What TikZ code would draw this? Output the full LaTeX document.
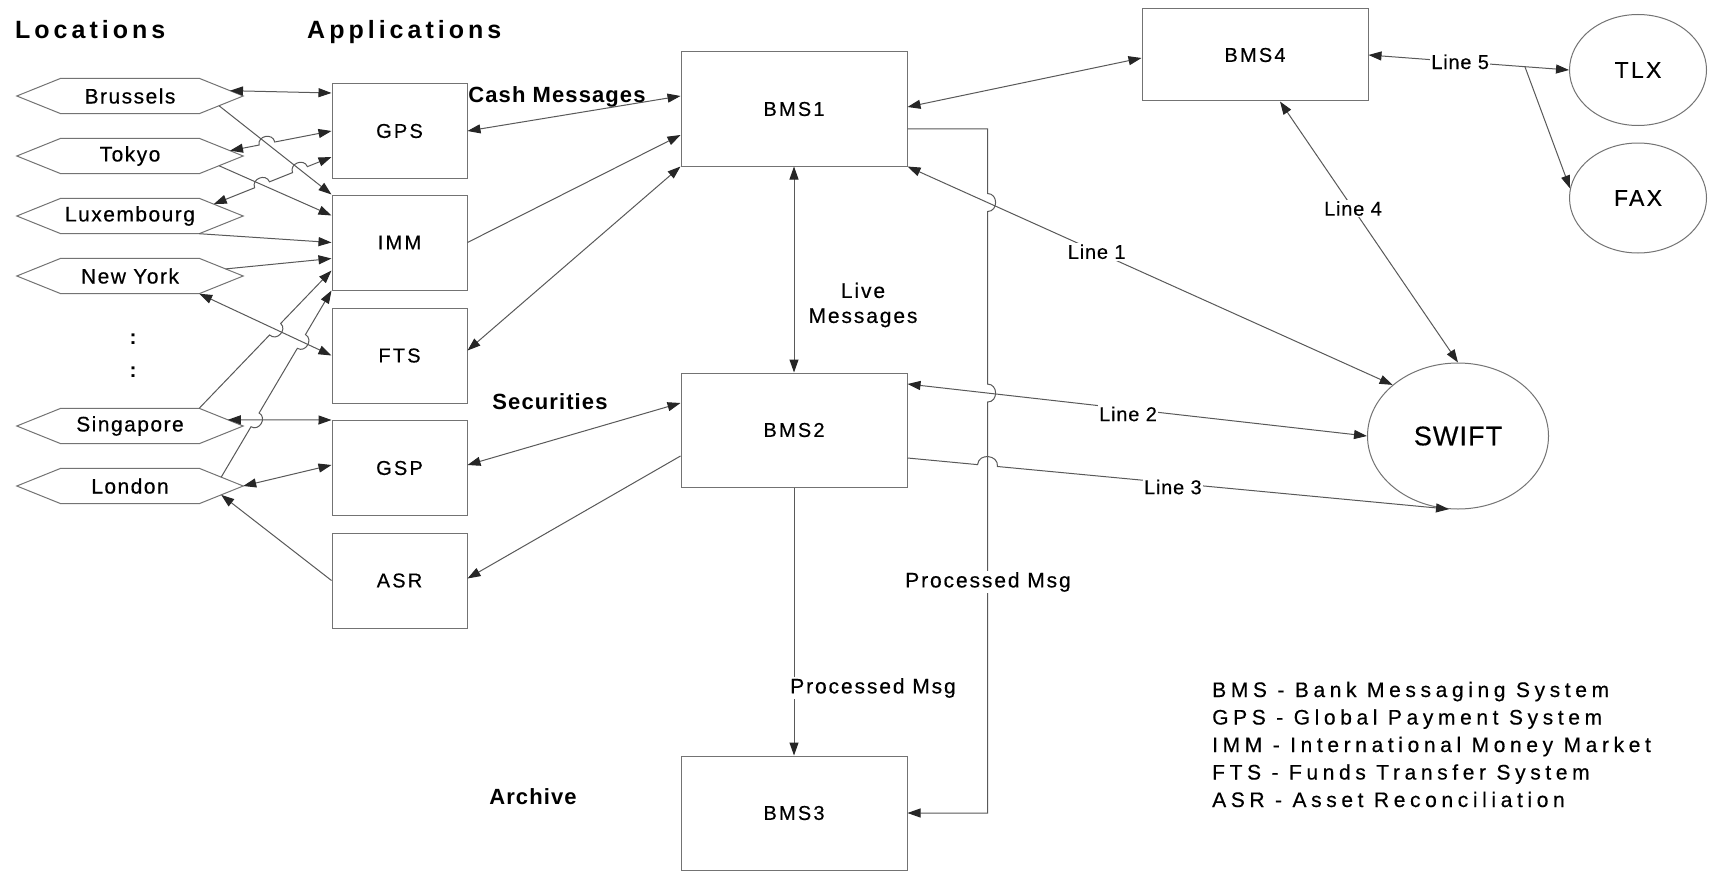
\documentclass[tikz,border=0pt]{standalone}
\usepackage{fontspec}
\setmainfont{Liberation Sans}
\newfontfamily\fLoc{Liberation Sans}[LetterSpace=7,FakeBold=0.4]
\newfontfamily\fBox{Liberation Sans}[LetterSpace=11,FakeBold=0.4]
\newfontfamily\fHead{Liberation Sans}[LetterSpace=16]
\newfontfamily\fLbl{Liberation Sans}[LetterSpace=5]
\newfontfamily\fMsg{Liberation Sans}[LetterSpace=9,FakeBold=0.4]
\newfontfamily\fLine{Liberation Sans}[LetterSpace=4,FakeBold=0.3]
\newfontfamily\fSw{Liberation Sans}[LetterSpace=4,FakeBold=0.4]
\newfontfamily\fTf{Liberation Sans}[LetterSpace=10,FakeBold=0.4]
\newfontfamily\fLeg{Liberation Sans}[LetterSpace=22,FakeBold=0.4]
\usetikzlibrary{arrows.meta,calc,shapes.geometric,intersections}
\newcommand\mkjump[7]{%
  \coordinate (#1a) at ($(#4)!#5!(#2)$);
  \coordinate (#1b) at ($(#4)!#5!(#3)$);
  \coordinate (#1p) at ($(#1a)!0.6!#6:(#1b)$);
  \coordinate (#1q) at ($(#1b)!0.6!#7:(#1a)$);
}
\begin{document}
\begin{tikzpicture}[x=1pt,y=-1pt,
  ln/.style={draw=black!65, line width=1pt},
  arr/.style={ln, -{Triangle[length=13pt,width=9pt,color=black!85]}},
  darr/.style={ln, {Triangle[length=13pt,width=9pt,color=black!85]}-{Triangle[length=13pt,width=9pt,color=black!85]}},
  appbox/.style={draw=black!55, line width=1pt, minimum width=135pt, minimum height=95pt, inner sep=0pt, font={\fBox\fontsize{20}{24}\selectfont}},
  bmsbox/.style={appbox, minimum width=226pt, minimum height=114pt},
  hexn/.style={minimum width=138pt, minimum height=35pt, inner sep=0pt, font={\fLoc\fontsize{21}{25}\selectfont}},
  hexline/.style={draw=black!55, line width=1pt},
  oval/.style={ellipse, draw=black!55, line width=1pt, inner sep=0pt},
  lblline/.style={fill=white, inner sep=1.5pt, font={\fLine\fontsize{20}{24}\selectfont}},
  msg/.style={inner sep=1pt, font={\fMsg\fontsize{21}{25}\selectfont}},
  head/.style={anchor=base west, inner sep=0pt, font={\fHead\bfseries\fontsize{25}{30}\selectfont}},
  boldlbl/.style={inner sep=0pt, font={\fLbl\bfseries\fontsize{22}{26}\selectfont}},
  leg/.style={anchor=base west, inner sep=0pt, font={\fLeg\fontsize{21}{25}\selectfont}}
]
\useasboundingbox[fill=white] (0,0) rectangle (1712,872);

% headers
\node[head] (hloc) at (15,39) {Locations};
\node[head] (happ) at (307,39) {Applications};

% locations
\node[hexn] (bru) at (130,96) {Brussels};
\node[hexn] (tok) at (130,156) {Tokyo};
\node[hexn] (lux) at (130,216) {Luxembourg};
\node[hexn] (ny) at (130,276) {New York};
\node[hexn] (sin) at (130,426) {Singapore};
\node[hexn] (lon) at (130,486) {London};
\foreach \n in {bru,tok,lux,ny,sin,lon}{
  \coordinate (\n-r) at ($(\n.east)+(44,0)$);
  \coordinate (\n-l) at ($(\n.west)+(-44,0)$);
  \draw[hexline] (\n.north west) -- (\n.north east) -- (\n-r) -- (\n.south east) -- (\n.south west) -- (\n-l) -- cycle;
}
\node[inner sep=0pt, font={\bfseries\fontsize{21}{25}\selectfont}] (dots1) at (133,339) {:};
\node[inner sep=0pt, font={\bfseries\fontsize{21}{25}\selectfont}] (dots2) at (133,372) {:};

% applications
\node[appbox] (gps) at (399.5,131) {GPS};
\node[appbox] (imm) at (399.5,242.5) {IMM};
\node[appbox] (fts) at (399.5,355.5) {FTS};
\node[appbox] (gsp) at (399.5,468) {GSP};
\node[appbox] (asr) at (399.5,580.5) {ASR};

% BMS
\node[bmsbox] (bms1) at (794,109) {BMS1};
\node[bmsbox] (bms2) at (794,430) {BMS2};
\node[bmsbox] (bms3) at (794,813) {BMS3};
\node[bmsbox, minimum height=92pt] (bms4) at (1255,55) {BMS4};

% ovals
\node[oval, minimum width=137pt, minimum height=111pt, font={\fTf\fontsize{23}{27}\selectfont}] (tlx) at (1638,70) {TLX};
\node[oval, minimum width=137pt, minimum height=110pt, font={\fTf\fontsize{23}{27}\selectfont}] (fax) at (1638,198) {FAX};
\node[oval, minimum width=181pt, minimum height=146pt, font={\fSw\fontsize{27}{32}\selectfont}] (swift) at (1458,436) {SWIFT};

% ---- left connectors
\coordinate (bruA1) at ($(bru.north east)!0.7!(bru-r)$);
\coordinate (gpsB1) at ($(gps.west)+(0,-38)$);
\coordinate (tokA1) at ($(tok.north east)!0.7!(tok-r)$);
\coordinate (gpsB2) at (gps.west);
\coordinate (luxA1) at ($(lux.north east)!0.33!(lux-r)$);
\coordinate (gpsB3) at ($(gps.west)+(0,26)$);
\coordinate (bruA2) at ($(bru.south east)!0.45!(bru-r)$);
\coordinate (immB1) at (imm.north west);
\coordinate (tokA2) at ($(tok.south east)!0.45!(tok-r)$);
\coordinate (immB2) at ($(imm.west)+(0,-27)$);
\coordinate (luxA2) at (lux.south east);
\coordinate (immB3) at (imm.west);
\coordinate (nyA1) at ($(ny.north east)!0.6!(ny-r)$);
\coordinate (immB4) at ($(imm.west)+(0,16)$);
\coordinate (sinA1) at (sin.north east);
\coordinate (immB5) at ($(imm.west)+(0,28)$);
\coordinate (lonA1) at ($(lon.north east)!0.5!(lon-r)$);
\coordinate (immB6) at (imm.south west);
\coordinate (nyA2) at (ny.south east);
\coordinate (ftsB1) at (fts.west);
\coordinate (sinA2) at ($(sin.north east)!0.65!(sin-r)$);
\coordinate (gspB1) at (gsp.north west);
\coordinate (lonA2) at (lon-r);
\coordinate (gspB2) at ($(gsp.west)+(0,-3)$);
\coordinate (asrB1) at (asr.west);
\coordinate (lonA3) at ($(lon.south east)!0.5!(lon-r)$);

\path[name path=tg] (tokA1) -- (gpsB2);
\path[name path=bi] (bruA2) -- (immB1);
\path[name path=lg] (luxA1) -- (gpsB3);
\path[name path=ti] (tokA2) -- (immB2);
\path[name path=si] (sinA1) -- (immB5);
\path[name path=nf] (nyA2) -- (ftsB1);
\path[name path=li] (lonA1) -- (immB6);
\path[name path=sg] (sinA2) -- (gspB1);
\path[name intersections={of=tg and bi, by=X1}];
\path[name intersections={of=lg and ti, by=X2}];
\path[name intersections={of=lg and bi, by=X3}];
\path[name intersections={of=si and nf, by=X4}];
\path[name intersections={of=li and sg, by=X5}];
\path[name intersections={of=li and nf, by=X6}];
\mkjump{J1}{tokA1}{gpsB2}{X1}{8pt}{90}{-90}
\mkjump{J2}{luxA1}{gpsB3}{X2}{8pt}{90}{-90}
\mkjump{J3}{luxA1}{gpsB3}{X3}{8pt}{90}{-90}
\mkjump{J4}{sinA1}{immB5}{X4}{8pt}{-90}{90}
\mkjump{J5}{lonA1}{immB6}{X5}{8pt}{-90}{90}
\mkjump{J6}{lonA1}{immB6}{X6}{8pt}{-90}{90}

\draw[darr] (bruA1) -- (gpsB1);
\draw[darr] (tokA1) -- (J1a) .. controls (J1p) and (J1q) .. (J1b) -- (gpsB2);
\draw[darr] (luxA1) -- (J2a) .. controls (J2p) and (J2q) .. (J2b) -- (J3a) .. controls (J3p) and (J3q) .. (J3b) -- (gpsB3);
\draw[arr] (bruA2) -- (immB1);
\draw[arr] (tokA2) -- (immB2);
\draw[arr] (luxA2) -- (immB3);
\draw[arr] (nyA1) -- (immB4);
\draw[arr] (sinA1) -- (J4a) .. controls (J4p) and (J4q) .. (J4b) -- (immB5);
\draw[arr] (lonA1) -- (J5a) .. controls (J5p) and (J5q) .. (J5b) -- (J6a) .. controls (J6p) and (J6q) .. (J6b) -- (immB6);
\draw[darr] (nyA2) -- (ftsB1);
\draw[darr] (sinA2) -- (gspB1);
\draw[darr] (lonA2) -- (gspB2);
\draw[arr] (asrB1) -- (lonA3);

% ---- middle connectors
\draw[darr] (gps.east) -- ($(bms1.west)+(0,-13)$);
\draw[arr] (imm.east) -- ($(bms1.west)+(0,26)$);
\draw[darr] ($(fts.east)+(0,-5)$) -- (bms1.south west);
\draw[darr] ($(gsp.east)+(0,-3)$) -- ($(bms2.west)+(0,-27)$);
\draw[arr] ($(bms2.west)+(0,26)$) -- ($(asr.east)+(0,-2)$);
\draw[darr] (bms1.south) -- (bms2.north);
\draw[arr] (bms2.south) -- (bms3.north);
\draw[darr] ($(bms1.east)+(0,-2)$) -- ($(bms4.west)+(0,3)$);

% ---- right connectors
\coordinate (l1a) at (bms1.south east);
\coordinate (l1b) at (swift.142);
\coordinate (l2a) at ($(bms2.east)+(0,-46)$);
\coordinate (l2b) at (swift.west);
\coordinate (l3a) at ($(bms2.east)+(0,28)$);
\coordinate (l3b) at (swift.263);
\coordinate (l4a) at ($(bms4.south)+(25,0)$);
\coordinate (l4b) at (swift.north);
\coordinate (l5a) at (bms4.east);
\coordinate (l5b) at (tlx.west);
\coordinate (l5c) at ($(l5a)!0.78!(l5b)$);

\coordinate (p0) at ($(bms1.east)+(0,20)$);
\coordinate (p1) at ($(bms1.east)+(80,20)$);
\coordinate (p2) at (p1 |- bms3.east);
\path[name path=pv] (p1) -- (p2);
\path[name path=pl1] (l1a) -- (l1b);
\path[name path=pl2] (l2a) -- (l2b);
\path[name path=pl3] (l3a) -- (l3b);
\path[name intersections={of=pv and pl1, by=X7}];
\path[name intersections={of=pv and pl2, by=X8}];
\path[name intersections={of=pv and pl3, by=X9}];
\mkjump{J7}{p1}{p2}{X7}{9pt}{90}{-90}
\mkjump{J8}{p1}{p2}{X8}{9pt}{90}{-90}
\mkjump{J9}{l3a}{l3b}{X9}{10pt}{90}{-90}

\draw[arr] (p0) -- (p1) -- (J7a) .. controls (J7p) and (J7q) .. (J7b) -- (J8a) .. controls (J8p) and (J8q) .. (J8b) -- (p2) -- (bms3.east);
\draw[darr] (l1a) -- (l1b);
\draw[darr] (l2a) -- (l2b);
\draw[arr] (l3a) -- (J9a) .. controls (J9p) and (J9q) .. (J9b) -- (l3b);
\draw[darr] (l4a) -- (l4b);
\draw[darr] (l5a) -- (l5b);
\draw[arr] (l5c) -- (fax.172);

% ---- labels
\node[lblline] (t1) at ($(l1a)!0.39!(l1b)$) {Line 1};
\node[lblline] (t2) at ($($(l2a)!0.48!(l2b)$)+(0,5)$) {Line 2};
\node[lblline] (t3) at ($($(l3a)!0.49!(l3b)$)+(0,4)$) {Line 3};
\node[lblline] (t4) at ($(l4a)!0.41!(l4b)$) {Line 4};
\node[lblline] (t5) at ($(l5a)!0.457!(l5b)$) {Line 5};

\node[boldlbl] (cash) at (557,97) {Cash Messages};
\node[boldlbl] (secu) at (550,402) {Securities};
\node[boldlbl] (arch) at (533,797) {Archive};
\node[msg, align=center] (live) at (863,305) {Live\\Messages};
\node[msg, fill=white] (pm1) at (873,688) {Processed Msg};
\node[msg, fill=white] (pm2) at (988,582) {Processed Msg};

% legend
\node[leg] (lg1) at (1212,697) {BMS - Bank Messaging System};
\node[leg] (lg2) at (1212,724.5) {GPS - Global Payment System};
\node[leg] (lg3) at (1212,752) {IMM - International Money Market};
\node[leg] (lg4) at (1212,779.5) {FTS - Funds Transfer System};
\node[leg] (lg5) at (1212,807) {ASR - Asset Reconciliation};
\end{tikzpicture}
\end{document}
